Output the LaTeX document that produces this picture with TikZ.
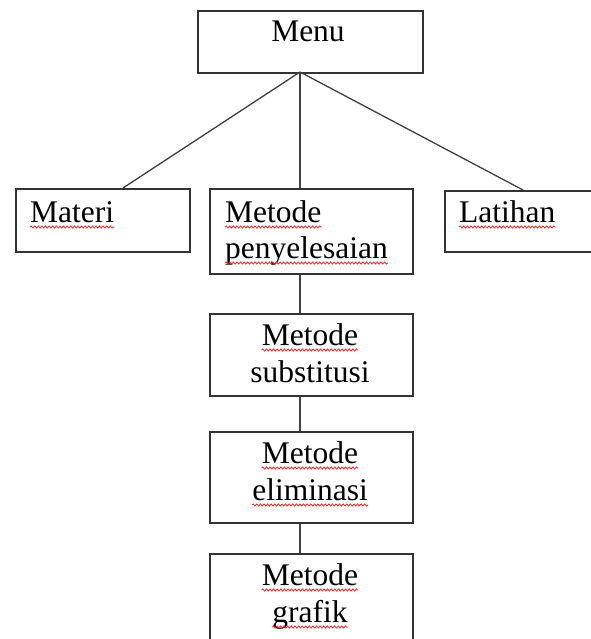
\documentclass[tikz,border=0pt]{standalone}
\usepackage{fontspec}
\setmainfont{Liberation Serif}
\usetikzlibrary{decorations.pathmorphing}
\tikzset{
  box/.style={draw=black!80, line width=1.6pt, rectangle, inner sep=0pt, anchor=north west},
  conn/.style={draw=black!75, line width=1.3pt},
  lbl/.style={inner sep=0pt, font=\fontsize{31.5}{37}\selectfont, text=black},
  squig/.style={draw=red!85, line width=0.8pt, decorate, decoration={snake, amplitude=1.1pt, segment length=3.6pt}}
}
\newcommand{\squigunder}[1]{\draw[squig] ([yshift=-5pt]#1.base west) -- ([yshift=-5pt]#1.base east);}
\begin{document}
\begin{tikzpicture}[x=1pt,y=-1pt]
\useasboundingbox[fill=white] (0,0) rectangle (590,639);
% boxes
\node[box, minimum width=225pt, minimum height=62pt] (menu) at (197,10) {};
\node[box, minimum width=174pt, minimum height=63pt] (materi) at (15,188) {};
\node[box, minimum width=203pt, minimum height=85pt] (penye) at (209,188) {};
\node[box, minimum width=160pt, minimum height=61pt] (latihan) at (444,190) {};
\node[box, minimum width=203pt, minimum height=82pt] (subst) at (209,313) {};
\node[box, minimum width=203pt, minimum height=91pt] (elim) at (209,431) {};
\node[box, minimum width=203pt, minimum height=110pt] (grafik) at (209,553) {};
% connectors
\coordinate (hub) at (300,72);
\coordinate (mt) at (123,188);
\coordinate (lt) at (523,190);
\draw[conn] (hub) -- (mt);
\draw[conn] (hub) -- (penye.north -| hub);
\draw[conn] (hub) -- (lt);
\draw[conn] (penye.south -| hub) -- (subst.north -| hub);
\draw[conn] (subst.south -| hub) -- (elim.north -| hub);
\draw[conn] (elim.south -| hub) -- (grafik.north -| hub);
% texts
\node[lbl, anchor=base] (tmenu) at (308,42) {Menu};
\node[lbl, anchor=base west] (tmat) at (30,222) {Materi};
\node[lbl, anchor=base west] (tpm) at (225,222) {Metode};
\node[lbl, anchor=base west] (tpp) at (225,258) {penyelesaian};
\node[lbl, anchor=base west] (tlat) at (459,222) {Latihan};
\node[lbl, anchor=base] (tsm) at (310,345) {Metode};
\node[lbl, anchor=base] (tss) at (310,382) {substitusi};
\node[lbl, anchor=base] (tem) at (310,463) {Metode};
\node[lbl, anchor=base] (tee) at (310,500) {eliminasi};
\node[lbl, anchor=base] (tgm) at (310,585) {Metode};
\node[lbl, anchor=base] (tgg) at (310,622) {grafik};
% spell-check underlines
\squigunder{tmat}
\squigunder{tpm}
\squigunder{tpp}
\squigunder{tlat}
\squigunder{tsm}
\squigunder{tem}
\squigunder{tee}
\squigunder{tgm}
\squigunder{tgg}
\end{tikzpicture}
\end{document}
